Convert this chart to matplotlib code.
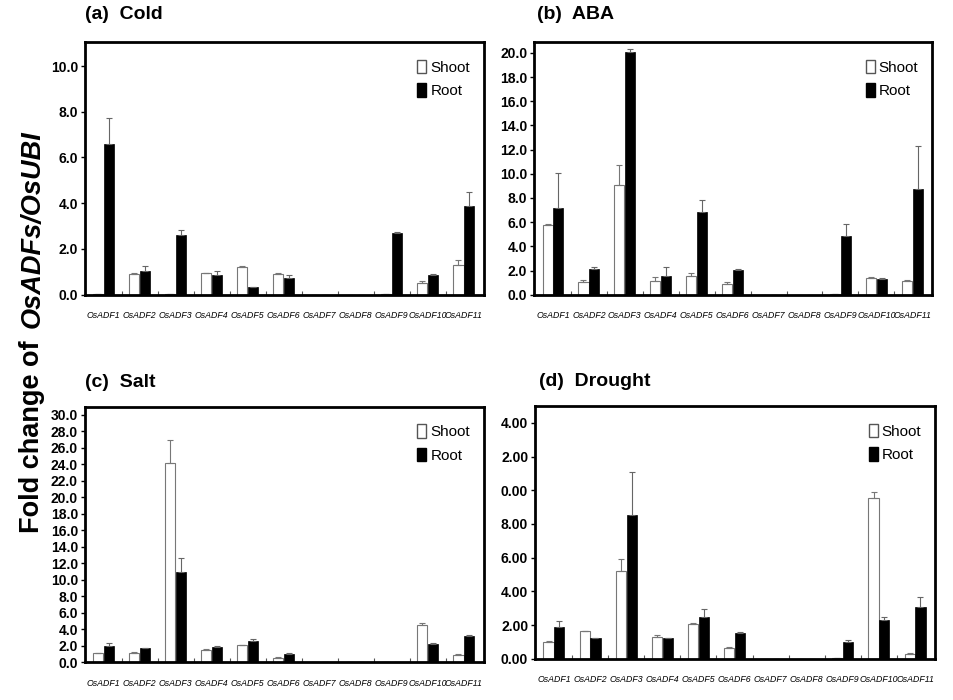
import numpy as np
import matplotlib
matplotlib.use("Agg")
import matplotlib.pyplot as plt
from matplotlib.patches import Patch

plt.rcParams["font.family"] = ["DejaVu Sans Condensed", "Liberation Sans", "DejaVu Sans"]

genes = ["OsADF1", "OsADF2", "OsADF3", "OsADF4", "OsADF5", "OsADF6",
         "OsADF7", "OsADF8", "OsADF9", "OsADF10", "OsADF11"]

# (a) Cold
cold_shoot = [0.02, 0.90, 0.02, 0.93, 1.21, 0.92, 0.0, 0.0, 0.02, 0.51, 1.31]
cold_shoot_err = [0.0, 0.05, 0.0, 0.04, 0.04, 0.04, 0.0, 0.0, 0.0, 0.07, 0.22]
cold_root = [6.57, 1.02, 2.62, 0.87, 0.33, 0.71, 0.0, 0.0, 2.69, 0.87, 3.88]
cold_root_err = [1.16, 0.24, 0.21, 0.15, 0.02, 0.13, 0.0, 0.0, 0.07, 0.02, 0.62]

# (b) ABA
aba_shoot = [5.75, 1.03, 9.08, 1.17, 1.58, 0.89, 0.0, 0.0, 0.02, 1.39, 1.17]
aba_shoot_err = [0.08, 0.22, 1.67, 0.28, 0.22, 0.14, 0.0, 0.0, 0.0, 0.11, 0.03]
aba_root = [7.14, 2.14, 20.05, 1.53, 6.86, 2.08, 0.0, 0.0, 4.83, 1.33, 8.75]
aba_root_err = [2.94, 0.14, 0.30, 0.75, 0.97, 0.05, 0.0, 0.0, 1.00, 0.03, 3.55]

# (c) Salt
salt_shoot = [1.09, 1.09, 24.2, 1.50, 2.03, 0.49, 0.0, 0.0, 0.0, 4.46, 0.89]
salt_shoot_err = [0.05, 0.16, 2.76, 0.05, 0.05, 0.10, 0.0, 0.0, 0.0, 0.28, 0.05]
salt_root = [1.95, 1.74, 10.94, 1.90, 2.55, 1.01, 0.0, 0.0, 0.0, 2.15, 3.12]
salt_root_err = [0.40, 0.03, 1.66, 0.10, 0.24, 0.05, 0.0, 0.0, 0.0, 0.15, 0.20]

# (d) Drought
drought_shoot = [0.99, 1.64, 5.23, 1.30, 2.07, 0.63, 0.0, 0.0, 0.02, 9.53, 0.28]
drought_shoot_err = [0.08, 0.02, 0.71, 0.10, 0.02, 0.04, 0.0, 0.0, 0.0, 0.39, 0.04]
drought_root = [1.87, 1.22, 8.54, 1.20, 2.49, 1.54, 0.0, 0.0, 1.00, 2.27, 3.06]
drought_root_err = [0.36, 0.02, 2.56, 0.02, 0.47, 0.04, 0.0, 0.0, 0.12, 0.22, 0.61]

drought_ticklabels = ["0.00", "2.00", "4.00", "6.00", "8.00", "0.00", "2.00", "4.00"]

panels = [
    ("(a)  Cold", cold_shoot, cold_shoot_err, cold_root, cold_root_err,
     11.05, np.arange(0, 11, 2), None, [0.089, 0.579, 0.418, 0.361], (0.089, 0.979)),
    ("(b)  ABA", aba_shoot, aba_shoot_err, aba_root, aba_root_err,
     20.9, np.arange(0, 21, 2), None, [0.560, 0.579, 0.417, 0.361], (0.563, 0.979)),
    ("(c)  Salt", salt_shoot, salt_shoot_err, salt_root, salt_root_err,
     31.0, np.arange(0, 31, 2), None, [0.089, 0.054, 0.418, 0.365], (0.089, 0.453)),
    ("(d)  Drought", drought_shoot, drought_shoot_err, drought_root, drought_root_err,
     15.0, np.arange(0, 15, 2), drought_ticklabels, [0.561, 0.059, 0.419, 0.361], (0.565, 0.455)),
]

fig = plt.figure(figsize=(9.54, 7.0), dpi=100)
x = np.arange(len(genes))
w = 0.28
zeros = np.zeros(len(genes))

for title, sh, she, rt, rte, ymax, yt, ytl, rect, tpos in panels:
    ax = fig.add_axes(rect)
    ax.bar(x - 0.15, sh, w, color="white", edgecolor="#777777", linewidth=0.8,
           yerr=[zeros, she], error_kw=dict(ecolor="#777777", elinewidth=0.8, capsize=2, capthick=0.8),
           zorder=2)
    ax.bar(x + 0.15, rt, w, color="black", edgecolor="black", linewidth=0.5,
           yerr=[zeros, rte], error_kw=dict(ecolor="#666666", elinewidth=0.8, capsize=2, capthick=0.8),
           zorder=2)
    ax.set_xlim(-0.52, len(genes) - 0.45)
    ax.set_ylim(0, ymax)
    ax.set_yticks(yt)
    if ytl is None:
        ax.set_yticklabels([f"{v:.1f}" for v in yt])
    else:
        ax.set_yticklabels(ytl)
    for lab in ax.get_yticklabels():
        lab.set_fontweight("bold")
        lab.set_fontsize(10)
    ax.tick_params(axis="y", direction="out", length=3, width=1, pad=2)
    ax.set_xticks(x)
    ax.set_xticklabels(genes, fontsize=6.3, fontstyle="italic")
    ax.tick_params(axis="x", which="major", length=0, pad=12)
    ax.set_xticks(np.arange(0.5, len(genes) - 1, 1), minor=True)
    ax.tick_params(axis="x", which="minor", direction="in", length=3, width=0.8, color="#555555")
    for s in ax.spines.values():
        s.set_linewidth(2)
    ax.legend(handles=[Patch(facecolor="white", edgecolor="#555555", label="Shoot"),
                       Patch(facecolor="black", edgecolor="black", label="Root")],
              loc="upper right", bbox_to_anchor=(1.0, 0.985), frameon=False,
              handlelength=0.6, handleheight=1.0, handletextpad=0.25, labelspacing=0.55,
              prop=dict(size=11))
    fig.text(tpos[0], tpos[1], title, fontsize=14, fontweight="bold", va="center", ha="left")

fig.text(0.034, 0.239, "Fold change of ", rotation=90, fontsize=19.5, fontweight="bold",
         family=["Liberation Sans", "DejaVu Sans"], ha="center", va="bottom")
fig.text(0.034, 0.814, "OsADFs/OsUBI", rotation=90, fontsize=19.5, fontweight="bold",
         fontstyle="italic", family=["Liberation Sans", "DejaVu Sans"], ha="center", va="top")

fig.savefig("out.png", dpi=100)
